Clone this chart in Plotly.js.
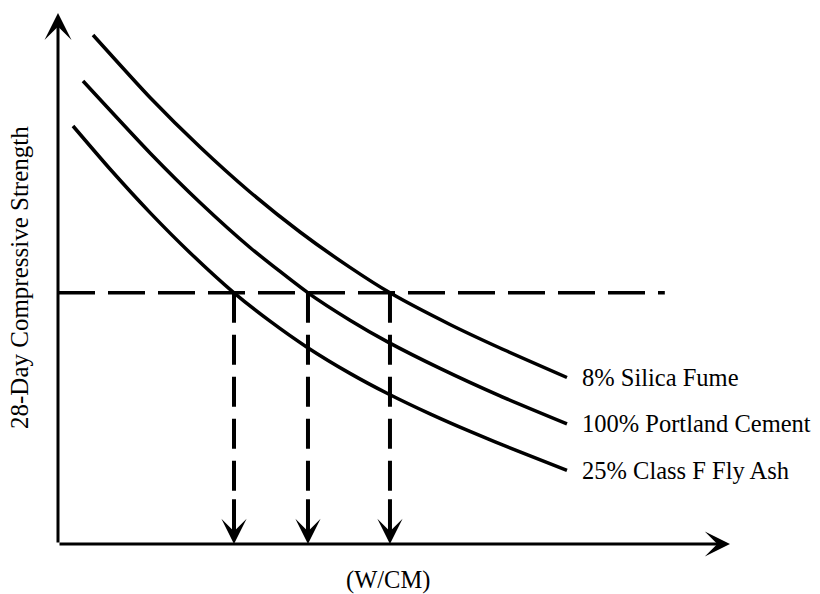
<!DOCTYPE html>
<html>
<head>
<meta charset="utf-8">
<script src="https://cdn.plot.ly/plotly-3.0.1.min.js"></script>
<style>
  html, body { margin: 0; padding: 0; background: #fff; }
  #chart { width: 820px; height: 594px; }
</style>
</head>
<body>
<div id="chart"></div>
<script>
// Schematic values (arbitrary units; no tick labels in the original)
const seriesNames = ["8% Silica Fume", "100% Portland Cement", "25% Class F Fly Ash"];

const xSilica   = [0.521, 1.369, 2.113, 2.857, 3.601, 4.345, 4.940, 5.833, 6.577, 7.574];
const ySilica   = [9.586, 8.409, 7.476, 6.629, 5.876, 5.209, 4.730, 4.134, 3.691, 3.136];

const xPortland = [0.372, 1.369, 2.113, 2.857, 3.720, 4.345, 4.911, 5.685, 6.577, 7.574];
const yPortland = [8.719, 7.364, 6.431, 5.584, 4.730, 4.215, 3.802, 3.307, 2.789, 2.262];

const xFlyAsh   = [0.223, 0.774, 1.369, 1.964, 2.619, 3.155, 3.705, 4.345, 4.911, 5.536, 6.131, 6.875, 7.574];
const yFlyAsh   = [7.872, 7.062, 6.241, 5.486, 4.730, 4.196, 3.706, 3.213, 2.829, 2.450, 2.119, 1.733, 1.388];

// Target strength level and the W/CM values where each curve reaches it
const targetStrength = 4.73;
const targetLineX = [0, 9.03];
const wcmAtTarget = [2.619, 3.720, 4.940];   // fly ash, portland, silica fume
const dashEndY = 1.0;
const arrowStartY = 0.87;

const labelX = 7.77;
const labelY = [3.13, 2.26, 1.39];

const axisMax = 10;
const yTitle = "28-Day Compressive Strength";
const xTitle = "(W/CM)";

const FONT = "Liberation Serif, Times New Roman, serif";
const black = "#000";

const curve = (x, y, name) => ({
  x: x, y: y, name: name, type: "scatter", mode: "lines",
  line: { color: black, width: 3.5, shape: "spline", smoothing: 0.6 },
  hoverinfo: "skip", showlegend: false
});

const traces = [
  curve(xSilica, ySilica, seriesNames[0]),
  curve(xPortland, yPortland, seriesNames[1]),
  curve(xFlyAsh, yFlyAsh, seriesNames[2]),
  {
    x: targetLineX, y: [targetStrength, targetStrength],
    type: "scatter", mode: "lines",
    line: { color: black, width: 3.5, dash: "37px,13px" },
    hoverinfo: "skip", showlegend: false
  }
];
wcmAtTarget.forEach(v => {
  traces.push({
    x: [v, v], y: [targetStrength, dashEndY],
    type: "scatter", mode: "lines",
    line: { color: black, width: 4, dash: "30px,12px" },
    hoverinfo: "skip", showlegend: false
  });
});

const annotations = [];
// axes drawn as arrows
annotations.push({
  x: 0, y: axisMax, ax: 0, ay: 0, xref: "x", yref: "y", axref: "x", ayref: "y",
  showarrow: true, arrowhead: 3, arrowwidth: 3, arrowsize: 1.5, arrowcolor: black, text: ""
});
annotations.push({
  x: axisMax, y: 0, ax: 0, ay: 0, xref: "x", yref: "y", axref: "x", ayref: "y",
  showarrow: true, arrowhead: 3, arrowwidth: 3, arrowsize: 1.4, arrowcolor: black, text: ""
});
// downward arrows onto the W/CM axis
wcmAtTarget.forEach(v => {
  annotations.push({
    x: v, y: 0, ax: v, ay: arrowStartY, xref: "x", yref: "y", axref: "x", ayref: "y",
    showarrow: true, arrowhead: 3, arrowwidth: 4, arrowsize: 1.05, arrowcolor: black, text: ""
  });
});
// curve labels
seriesNames.forEach((n, i) => {
  annotations.push({
    x: labelX, y: labelY[i], xref: "x", yref: "y", text: n, showarrow: false,
    xanchor: "left", yanchor: "middle",
    font: { family: FONT, size: 24.5, color: black }
  });
});
// axis titles (paper coordinates, outside the plot area)
annotations.push({
  x: -0.0565, y: 0.501, xref: "paper", yref: "paper", text: yTitle, showarrow: false,
  textangle: -90, xanchor: "center", yanchor: "middle",
  font: { family: FONT, size: 25, color: black }
});
annotations.push({
  x: 0.491, y: -0.0678, xref: "paper", yref: "paper", text: xTitle, showarrow: false,
  xanchor: "center", yanchor: "middle",
  font: { family: FONT, size: 24.5, color: black }
});

const layout = {
  width: 820, height: 594,
  margin: { l: 58, r: 90, t: 13, b: 50 },
  paper_bgcolor: "#fff", plot_bgcolor: "#fff",
  xaxis: { range: [0, axisMax], showgrid: false, zeroline: false, showline: false,
           showticklabels: false, ticks: "", fixedrange: true },
  yaxis: { range: [0, axisMax], showgrid: false, zeroline: false, showline: false,
           showticklabels: false, ticks: "", fixedrange: true },
  annotations: annotations,
  showlegend: false
};

Plotly.newPlot("chart", traces, layout, { staticPlot: true, displayModeBar: false });
</script>
</body>
</html>
